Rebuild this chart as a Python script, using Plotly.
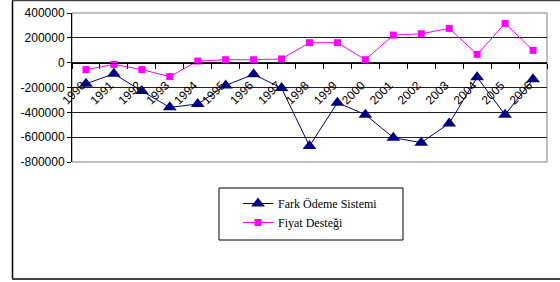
import plotly.graph_objects as go

years = [str(y) for y in range(1990, 2007)]
fark_odeme = [-170000, -90000, -229000, -360000, -333000, -183000, -94000, -205000,
              -672000, -322000, -419000, -604000, -644000, -489000, -118000, -419000, -134000]
fiyat_destegi = [-56000, -14000, -56000, -112000, 13000, 24000, 24000, 30000,
                 161000, 161000, 24000, 222000, 233000, 276000, 67000, 316000, 99000]
y_ticks = [400000, 200000, 0, -200000, -400000, -600000, -800000]

# pixel geometry
L, R, T, PB = 72, 547, 13, 277      # paper area (PB = paper bottom)
AB = 162                            # plot-area bottom
W, HP = R - L, PB - T
def px(x): return (x - L) / W
def py(y): return (PB - y) / HP

zero_px = AB - (AB - T) * 2 / 3

fig = go.Figure()
fig.add_trace(go.Scatter(
    x=years, y=fark_odeme, name="Fark Ödeme Sistemi", mode="lines+markers",
    line=dict(color="#000080", width=1),
    marker=dict(symbol="triangle-up", size=12, color="#000080"),
))
fig.add_trace(go.Scatter(
    x=years, y=fiyat_destegi, name="Fiyat Desteği", mode="lines+markers",
    line=dict(color="#FF00FF", width=1),
    marker=dict(symbol="square", size=7, color="#FF00FF"),
))

fig.update_layout(
    width=560, height=282,
    margin=dict(l=L, r=560 - R, t=T, b=282 - PB, autoexpand=False),
    paper_bgcolor="white", plot_bgcolor="white",
    font=dict(family="Arial, Liberation Sans", size=12, color="black"),
    showlegend=True,
    legend=dict(
        x=px(238), y=py(189), xanchor="left", yanchor="top",
        borderwidth=0, bgcolor="rgba(0,0,0,0)",
        font=dict(family="Times New Roman, Liberation Serif", size=12, color="black"),
        tracegroupgap=2, itemwidth=30,
    ),
    xaxis=dict(
        type="category", anchor="free", position=py(zero_px), automargin=False,
        showline=True, linecolor="black", linewidth=1,
        ticks="outside", tickson="boundaries", ticklen=5, tickcolor="black",
        tickangle=-45, showgrid=False, zeroline=False,
        ticklabelstandoff=10, ticklabelshift=-4,
        tickfont=dict(size=12, color="black"),
        range=[-0.5, 16.5],
    ),
    yaxis=dict(
        domain=[py(AB), 1], automargin=False,
        range=[-800000, 400000], tickvals=y_ticks,
        ticktext=[str(v) for v in y_ticks],
        showline=True, linecolor="black", linewidth=1,
        ticks="outside", ticklen=4, tickcolor="black",
        showgrid=True, gridcolor="#222222", gridwidth=1,
        zeroline=False, tickfont=dict(size=12, color="black"),
    ),
    shapes=[
        dict(type="rect", xref="paper", yref="paper", x0=0, x1=1, y0=py(AB), y1=1,
             line=dict(color="#808080", width=1), layer="below"),
        dict(type="rect", xref="paper", yref="paper", x0=px(219), x1=px(403),
             y0=py(240), y1=py(188), line=dict(color="black", width=1)),
        dict(type="line", xref="paper", yref="paper", x0=px(12.5), x1=px(12.5),
             y0=py(0.5), y1=py(279), line=dict(color="black", width=1.5)),
        dict(type="line", xref="paper", yref="paper", x0=px(12), x1=px(565),
             y0=py(279), y1=py(279), line=dict(color="#404040", width=2)),
        dict(type="line", xref="paper", yref="paper", x0=px(12), x1=px(565),
             y0=py(0.5), y1=py(0.5), line=dict(color="#404040", width=1.5)),
    ],
)

fig.write_html("out.html", config={"displayModeBar": False},
               post_script="document.body.style.margin='0';document.body.style.overflow='hidden';")
